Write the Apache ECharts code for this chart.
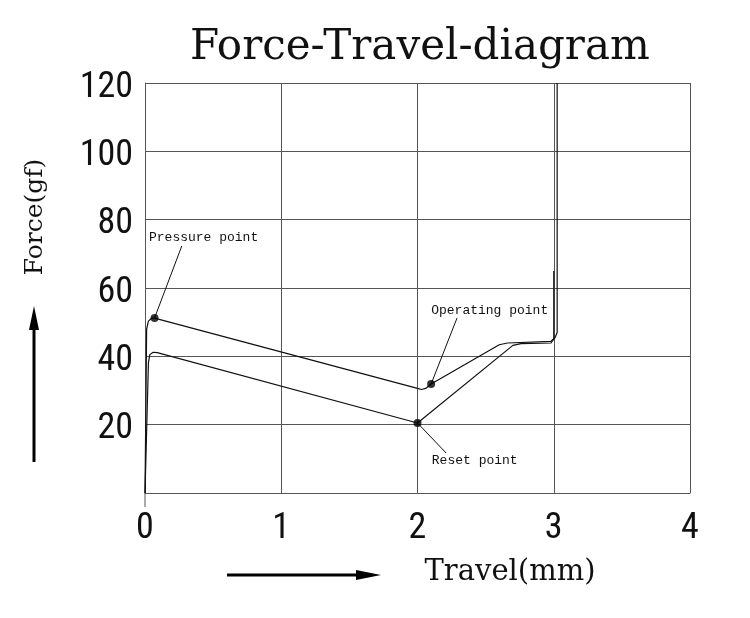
<!DOCTYPE html>
<html>
<head>
<meta charset="utf-8">
<script src="https://cdn.jsdelivr.net/npm/echarts@6/dist/echarts.min.js"></script>
<style>
  html, body { margin: 0; background: #fff; }
  #chart { width: 750px; height: 618px; }
</style>
</head>
<body>
<div id="chart"></div>
<script>
// travel (mm) / force (gf)
const pressTravel = [0, 0.012, 0.025, 0.05, 0.07, 2.0, 2.03, 2.06, 2.1, 2.6, 2.66, 2.98, 3.01, 3.025, 3.025];
const pressForce = [0, 48, 50.3, 51.2, 51.2, 30.6, 30.3, 30.6, 31.9, 43.4, 43.9, 44.4, 45.5, 47, 120];
const releaseTravel = [0, 0.025, 0.035, 0.06, 0.09, 2.0, 2.7, 2.76, 2.98, 3.0, 3.0];
const releaseForce = [0, 38, 40.5, 41.2, 41.1, 20.5, 43.2, 43.7, 43.9, 45, 65];

const pointNames = ['Pressure point', 'Operating point', 'Reset point'];
const pointTravel = [0.07, 2.1, 2.0];
const pointForce = [51.2, 31.9, 20.5];

const xTicks = [0, 1, 2, 3, 4];
const yTicks = [0, 20, 40, 60, 80, 100, 120];

// where each note's leader line ends and its text sits (data units)
const noteLayout = [
  { lineEnd: [0.27, 72.3], text: [0.43, 74.9] },
  { lineEnd: [2.29, 51.2], text: [2.53, 53.3] },
  { lineEnd: [2.21, 11.7], text: [2.42, 9.4] },
];

const zip = (xs, ys) => xs.map((x, i) => [x, ys[i]]);

const chart = echarts.init(document.getElementById('chart'));

const gridLine = { show: true, lineStyle: { color: '#555', width: 1 } };
const tickFont = {
  color: '#111',
  fontFamily: '"Liberation Sans Narrow", "Roboto Condensed", Roboto, sans-serif',
  fontSize: 36,
};

const option = {
  animation: false,
  backgroundColor: '#fff',
  title: {
    text: 'Force-Travel-diagram',
    left: 185,
    top: 22,
    textStyle: {
      fontFamily: '"DejaVu Serif", serif',
      fontWeight: 'normal',
      fontSize: 42,
      color: '#111',
    },
  },
  grid: { left: 145, right: 60, top: 83, bottom: 125, containLabel: false },
  xAxis: {
    type: 'value',
    min: xTicks[0],
    max: xTicks[xTicks.length - 1],
    interval: 1,
    axisLine: { show: true, onZero: false, lineStyle: { color: '#555', width: 1 } },
    axisTick: { show: false },
    splitLine: gridLine,
    axisLabel: Object.assign({ margin: 18 }, tickFont),
  },
  yAxis: {
    type: 'value',
    min: yTicks[0],
    max: yTicks[yTicks.length - 1],
    interval: 20,
    axisLine: { show: true, lineStyle: { color: '#555', width: 1 } },
    axisTick: { show: false },
    splitLine: gridLine,
    axisLabel: Object.assign({
      margin: 12,
      formatter: (v) => (v === 0 ? '' : '{n|' + v + '}'),
      rich: { n: Object.assign({ padding: [9, 0, 0, 0] }, tickFont) },
    }, tickFont),
  },
  graphic: [
    {
      type: 'text',
      x: 35,
      y: 217,
      rotation: Math.PI / 2,
      style: {
        text: 'Force(gf)',
        align: 'center',
        verticalAlign: 'middle',
        font: '25px "DejaVu Serif", serif',
        fill: '#111',
      },
    },
    {
      type: 'text',
      x: 510,
      y: 572,
      style: {
        text: 'Travel(mm)',
        align: 'center',
        verticalAlign: 'middle',
        font: '29px "DejaVu Serif", serif',
        fill: '#111',
      },
    },
    // arrows
    { type: 'line', shape: { x1: 34, y1: 462, x2: 34, y2: 326 }, style: { stroke: '#000', lineWidth: 3 } },
    { type: 'polygon', shape: { points: [[34, 306], [29, 330], [39, 330]] }, style: { fill: '#000' } },
    { type: 'line', shape: { x1: 227, y1: 575, x2: 360, y2: 575 }, style: { stroke: '#000', lineWidth: 3 } },
    { type: 'polygon', shape: { points: [[381, 575], [356, 570], [356, 580]] }, style: { fill: '#000' } },
    // y axis runs a little past the x axis
    { type: 'line', shape: { x1: 145, y1: 493, x2: 145, y2: 507 }, style: { stroke: '#555', lineWidth: 1 } },
  ],
  series: [
    {
      name: 'press',
      type: 'line',
      symbol: 'none',
      lineStyle: { color: '#111', width: 1.2 },
      data: zip(pressTravel, pressForce),
    },
    {
      name: 'release',
      type: 'line',
      symbol: 'none',
      lineStyle: { color: '#111', width: 1.2 },
      data: zip(releaseTravel, releaseForce),
    },
    {
      name: 'points',
      type: 'scatter',
      symbolSize: 8,
      itemStyle: { color: '#000' },
      z: 5,
      data: pointNames.map((n, i) => ({ name: n, value: [pointTravel[i], pointForce[i]] })),
      markLine: {
        silent: true,
        symbol: ['none', 'none'],
        label: { show: false },
        lineStyle: { color: '#111', width: 1, type: 'solid' },
        data: noteLayout.map((l, i) => [
          { coord: [pointTravel[i], pointForce[i]] },
          { coord: l.lineEnd },
        ]),
      },
      markPoint: {
        silent: true,
        symbol: 'circle',
        symbolSize: 0,
        label: {
          show: true,
          position: 'inside',
          formatter: '{b}',
          color: '#111',
          fontFamily: '"Liberation Mono", monospace',
          fontSize: 13,
        },
        data: noteLayout.map((l, i) => ({ name: pointNames[i], coord: l.text })),
      },
    },
  ],
};

chart.setOption(option);
</script>
</body>
</html>
